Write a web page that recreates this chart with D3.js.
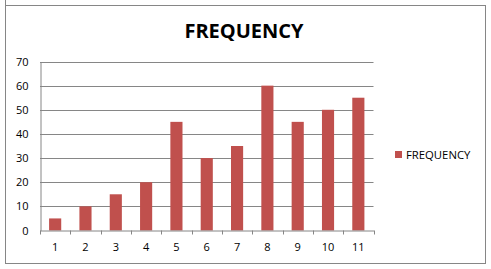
<!DOCTYPE html>
<html>
<head>
<meta charset="utf-8">
<script src="https://cdn.jsdelivr.net/npm/d3@7"></script>
<style>
html,body{margin:0;padding:0;background:#fff;}
svg{display:block;}
text{font-family:"Open Sans","DejaVu Sans",sans-serif;}
</style>
</head>
<body>
<svg id="chart" width="491" height="269"></svg>
<script>
const categories = ["1","2","3","4","5","6","7","8","9","10","11"];
const frequency = [5,10,15,20,45,30,35,60,45,50,55];
const yTicks = [0,10,20,30,40,50,60,70];
const seriesName = "FREQUENCY";
const chartTitle = "FREQUENCY";

const svg = d3.select("#chart");

// outer chart border
svg.append("rect").attr("x",5.5).attr("y",5.5).attr("width",480).attr("height",258)
  .attr("fill","#fff").attr("stroke","#868686").attr("stroke-width",1);
svg.append("line").attr("x1",5.5).attr("x2",5.5).attr("y1",0).attr("y2",5).attr("stroke","#868686");

const plot = {left:40, right:373.5, top:61.5, bottom:230.5};

const x = d3.scaleBand().domain(categories).range([plot.left, plot.right]).paddingInner(0).paddingOuter(0);
const y = d3.scaleLinear().domain([0,70]).range([plot.bottom, plot.top]);

// gridlines
svg.append("g").selectAll("line").data(yTicks.filter(d=>d>0)).join("line")
  .attr("x1",plot.left).attr("x2",plot.right)
  .attr("y1",d=>Math.round(y(d))+0.5).attr("y2",d=>Math.round(y(d))+0.5)
  .attr("stroke","#868686").attr("stroke-width",1);

// y axis
const yAxis = d3.axisLeft(y).tickValues(yTicks).tickSize(0).tickPadding(12);
const gy = svg.append("g").attr("transform",`translate(${plot.left+0.5},0)`).call(yAxis);
gy.select(".domain").attr("stroke","#868686");
gy.selectAll("text").attr("font-size",11).attr("fill","#000");

// bars
const bw = x.bandwidth()/2.5;
svg.append("g").selectAll("rect").data(frequency).join("rect")
  .attr("x",(d,i)=>x(categories[i]) + x.bandwidth()/2 - bw/2)
  .attr("width",bw)
  .attr("y",d=>y(d))
  .attr("height",d=>y(0)-y(d))
  .attr("fill","#C0504D");

// x axis
const xAxis = d3.axisBottom(x).tickSize(0).tickPadding(13);
const gx = svg.append("g").attr("transform",`translate(0,${plot.bottom})`).call(xAxis);
gx.select(".domain").attr("stroke","#868686");
gx.selectAll("text").attr("font-size",11).attr("fill","#000");
// tick marks at band boundaries
const bounds = categories.map(c=>x(c)).concat([plot.right]);
gx.append("g").selectAll("line").data(bounds).join("line")
  .attr("x1",d=>Math.round(d)+0.5).attr("x2",d=>Math.round(d)+0.5)
  .attr("y1",0).attr("y2",4).attr("stroke","#868686");

// title
svg.append("text").attr("x",244).attr("y",37.5).attr("text-anchor","middle")
  .attr("font-size",20).attr("font-weight","bold").attr("fill","#000")
  .text(chartTitle);

// legend
const lg = svg.append("g").attr("transform","translate(395,151)");
lg.append("rect").attr("width",7).attr("height",7).attr("fill","#C0504D");
lg.append("text").attr("x",11).attr("y",8).attr("font-size",11.3).attr("fill","#000").text(seriesName);
</script>
</body>
</html>
